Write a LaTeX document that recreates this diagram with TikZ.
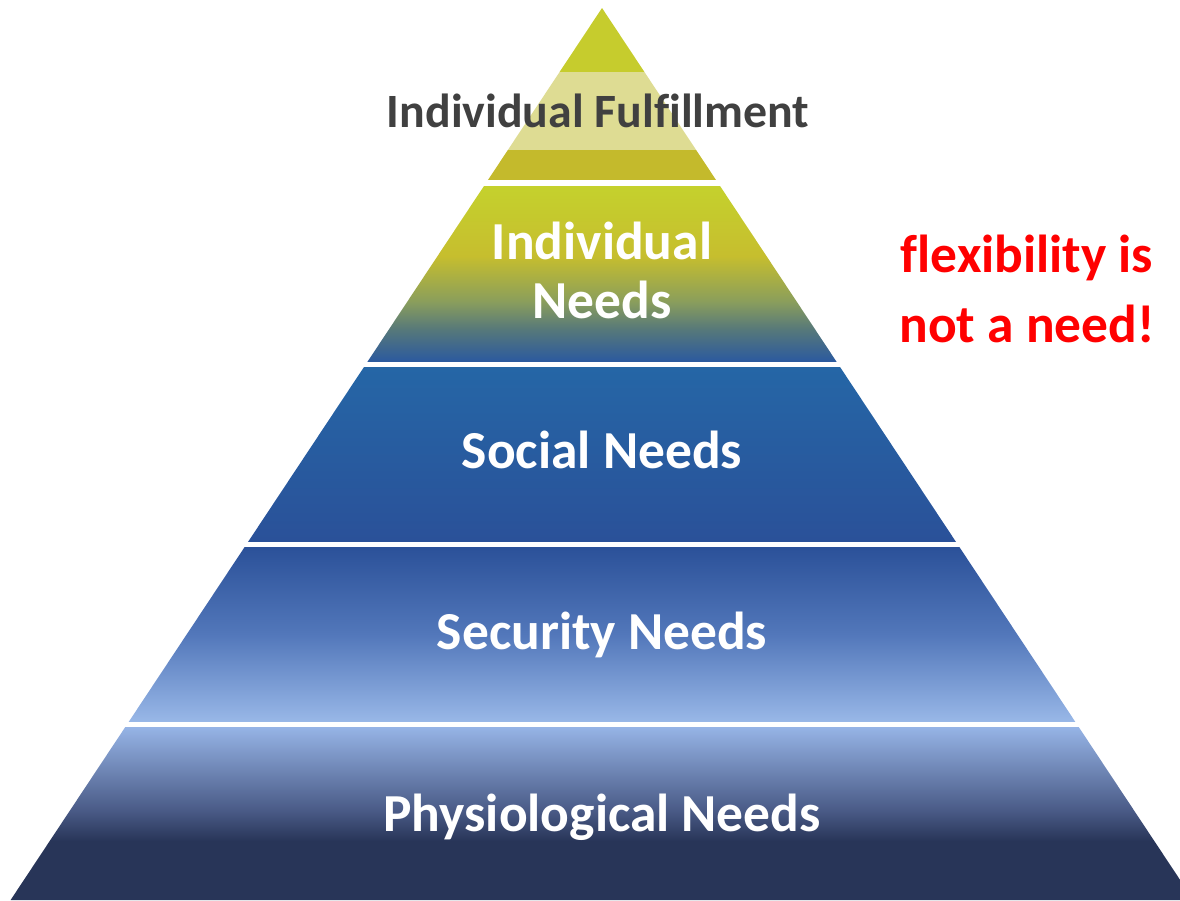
\documentclass[tikz,border=0pt]{standalone}
\usepackage{fontspec}
\setmainfont{Carlito}[Ligatures=NoCommon]
\usetikzlibrary{positioning, calc}

\definecolor{tipGreen}{HTML}{C6CC2D}
\definecolor{tipPale}{HTML}{DEDC93}
\definecolor{tipOlive}{HTML}{C4BA2C}
\definecolor{needTop}{HTML}{C5D12D}
\definecolor{needMid}{HTML}{C6BE2E}
\definecolor{needMoss}{HTML}{8A9E5C}
\definecolor{needTeal}{HTML}{56787A}
\definecolor{needBot}{HTML}{2C5A9E}
\definecolor{socialTop}{HTML}{2566A6}
\definecolor{socialBot}{HTML}{2A5199}
\definecolor{secTop}{HTML}{2B5199}
\definecolor{secMid}{HTML}{5277BA}
\definecolor{secBot}{HTML}{98B7E7}
\definecolor{physTop}{HTML}{96B4E6}
\definecolor{physMid}{HTML}{4A5B87}
\definecolor{physBot}{HTML}{283558}
\definecolor{labelGray}{HTML}{404040}

% vertical shadings: 25bp = bottom of the band, 75bp = top of the band
\pgfdeclareverticalshading{indivshade}{100bp}{color(0bp)=(needBot); color(25bp)=(needBot);
    color(34bp)=(needTeal); color(42bp)=(needMoss); color(55bp)=(needMid);
    color(75bp)=(needTop); color(100bp)=(needTop)}
\pgfdeclareverticalshading{secshade}{100bp}{color(0bp)=(secBot); color(25bp)=(secBot);
    color(50bp)=(secMid); color(75bp)=(secTop); color(100bp)=(secTop)}
\pgfdeclareverticalshading{physshade}{100bp}{color(0bp)=(physBot); color(25bp)=(physBot);
    color(42bp)=(physBot); color(51bp)=(physMid); color(75bp)=(physTop); color(100bp)=(physTop)}

\begin{document}
\begin{tikzpicture}[
        x=0.01cm, y=-0.01cm,
        % Styles for the pyramid labels
        level/.style={font=\fontsize{15.2}{16.5}\selectfont\bfseries, text=white,
                align=center, anchor=base, inner sep=0pt},
        toplevel/.style={level, font=\fontsize{13.6}{16.5}\selectfont\bfseries, text=labelGray},
        remark/.style={font=\fontsize{15.2}{19.8}\selectfont\bfseries, text=red,
                align=center, anchor=base, inner sep=0pt},
    ]

    \useasboundingbox (0,0) rectangle (1180,900);

    % === PYRAMID OUTLINE ===
    \coordinate (apex) at (602,8);
    \coordinate (baseL) at (10.6,900);
    \coordinate (baseR) at (1193.4,900);

    \begin{scope}
        \clip (0,0) rectangle (1180,900);
        \clip (apex) -- (baseL) -- (baseR) -- cycle;

        % Tip (three flat bands)
        \fill[tipGreen] (0,0) rectangle (1180,72);
        \fill[tipPale] (0,72) rectangle (1180,150);
        \fill[tipOlive] (0,150) rectangle (1180,180);

        % Individual needs
        \shade[shading=indivshade] (0,186) rectangle (1180,361);
        % Social needs
        \shade[top color=socialTop, bottom color=socialBot] (0,367) rectangle (1180,541);
        % Security needs
        \shade[shading=secshade] (0,547) rectangle (1180,721);
        % Physiological needs
        \shade[shading=physshade] (0,727) rectangle (1180,900);
    \end{scope}

    % === LABELS ===
    \node[toplevel] (fulfil) at (598,127) {Individual Fulfillment};
    \node[level] (indiv) at (602,318) {Individual\\Needs};
    \node[level] (social) at (602,468) {Social Needs};
    \node[level] (security) at (602,649) {Security Needs};
    \node[level] (physio) at (602,831) {Physiological Needs};

    % Side remark
    \node[remark] (flex) at (1027,342) {flexibility is\\not a need!};

\end{tikzpicture}
\end{document}
